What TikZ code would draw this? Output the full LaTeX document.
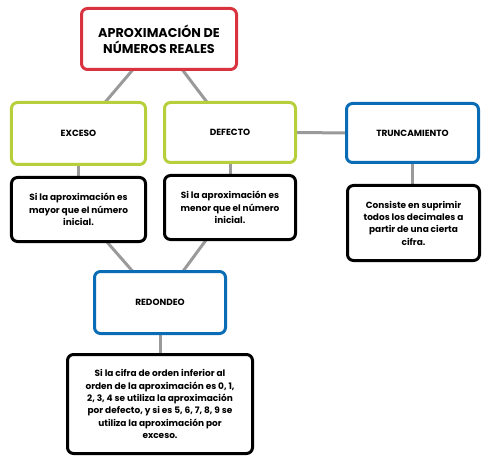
\documentclass[tikz,border=0pt]{standalone}
\usepackage{fontspec}
\setmainfont{Poppins}
\usetikzlibrary{backgrounds}
\definecolor{cred}{HTML}{D9333F}
\definecolor{cgreen}{HTML}{B8CF3C}
\definecolor{cblue}{HTML}{0A6CB5}
\definecolor{cgray}{HTML}{9A9A9A}
\tikzset{
  box/.style={draw, line width=3bp, rounded corners=6bp, fill=white, align=center, font=\bfseries\fontsize{9}{12.4}\selectfont, inner sep=0pt},
  redbox/.style={box, draw=cred, font=\bfseries\fontsize{12.8}{16}\selectfont},
  greenbox/.style={box, draw=cgreen},
  bluebox/.style={box, draw=cblue},
  blackbox/.style={box, draw=black},
  link/.style={draw=cgray, line width=3bp}
}
\begin{document}
\begin{tikzpicture}[x=1bp,y=-1bp]
\useasboundingbox (0,0) rectangle (492,463);
\node[redbox, minimum width=155bp, minimum height=61bp] (top) at (159,39) {APROXIMACIÓN DE\\NÚMEROS REALES};
\node[greenbox, minimum width=134bp, minimum height=62bp] (exc) at (78.5,133.5) {EXCESO};
\node[greenbox, minimum width=131bp, minimum height=60bp] (def) at (230,132.5) {DEFECTO};
\node[bluebox, minimum width=132bp, minimum height=59bp] (tru) at (412.5,133) {TRUNCAMIENTO};
\node[blackbox, minimum width=134bp, minimum height=64bp] (b1) at (78.5,209.5) {Si la aproximación es\\mayor que el número\\inicial.};
\node[blackbox, minimum width=131bp, minimum height=64bp] (b2) at (230,207.5) {Si la aproximación es\\menor que el número\\inicial.};
\node[blackbox, minimum width=132bp, minimum height=75bp] (b3) at (413.5,223) {Consiste en suprimir\\todos los decimales a\\partir de una cierta\\cifra.};
\node[bluebox, minimum width=131bp, minimum height=62bp] (red) at (160,302.5) {REDONDEO};
\node[blackbox, minimum width=185bp, minimum height=99bp] (b4) at (160,404) {Si la cifra de orden inferior al\\orden de la aproximación es 0, 1,\\2, 3, 4 se utiliza la aproximación\\por defecto, y si es 5, 6, 7, 8, 9 se\\utiliza la aproximación por\\exceso.};
\begin{scope}[on background layer]
\draw[link] (top.center) -- (exc.center);
\draw[link] (top.center) -- (def.center);
\draw[link] (def.center) -- (tru.center);
\draw[link] (exc.center) -- (b1.center);
\draw[link] (def.center) -- (b2.center);
\draw[link] (tru.center) -- (tru.center |- b3.center);
\draw[link] (b1.center) -- (red.center);
\draw[link] (b2.center) -- (red.center);
\draw[link] (red.center) -- (b4.center);
\end{scope}
\end{tikzpicture}
\end{document}
